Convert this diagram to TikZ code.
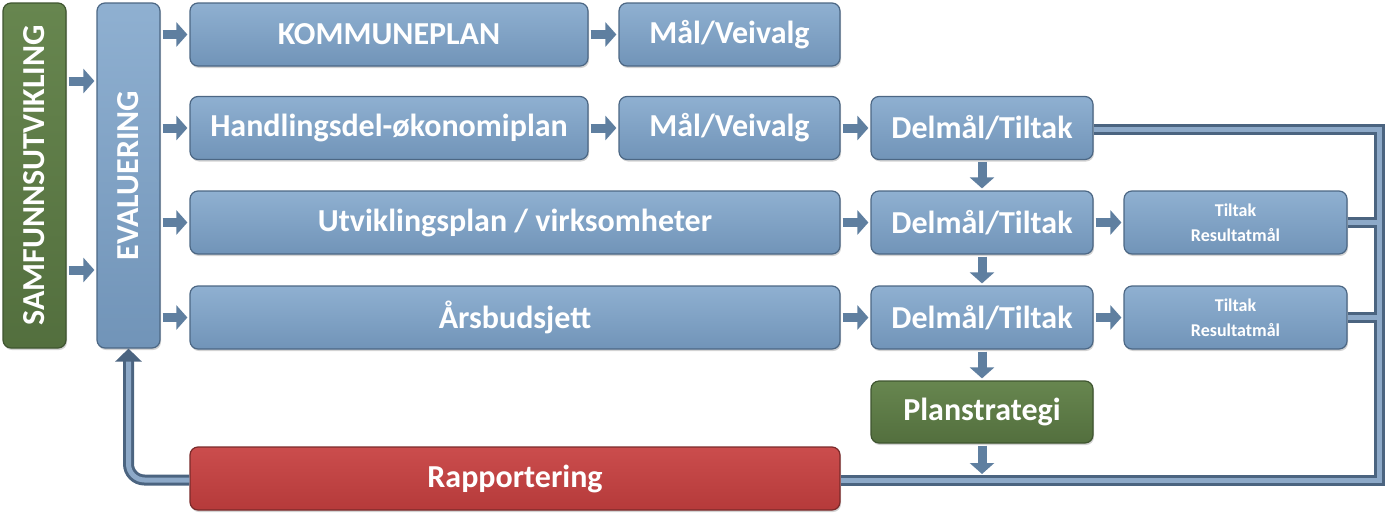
\documentclass[tikz,border=0pt]{standalone}
\usepackage{fontspec}
\usepackage{graphicx}
\setmainfont{Carlito}
\usetikzlibrary{arrows.meta,shadows,calc}
\definecolor{blueT}{HTML}{8FB0D1}
\definecolor{blueB}{HTML}{7194B8}
\definecolor{blueE}{HTML}{4C6784}
\definecolor{greenT}{HTML}{67864F}
\definecolor{greenB}{HTML}{536F3E}
\definecolor{greenE}{HTML}{3F5530}
\definecolor{redT}{HTML}{CB4D4D}
\definecolor{redB}{HTML}{B53A3A}
\definecolor{redE}{HTML}{7A2A2A}
\definecolor{arrowc}{HTML}{5F7FA0}
\definecolor{pipeD}{HTML}{4B6480}
\definecolor{pipeL}{HTML}{8DA9C8}
\begin{document}
\begin{tikzpicture}[x=1pt,y=-1pt,
  box/.style={rounded corners=8pt, line width=1.2pt, text=white,
    font=\fontsize{32}{34}\selectfont\bfseries, align=center, inner sep=0pt,
    drop shadow={shadow xshift=1pt, shadow yshift=-2pt, opacity=0.35}},
  bluebox/.style={box, draw=blueE, top color=blueT, bottom color=blueB},
  greenbox/.style={box, draw=greenE, top color=greenT, bottom color=greenB},
  redbox/.style={box, draw=redE, top color=redT, bottom color=redB},
  smallt/.style={font=\fontsize{18}{25}\selectfont\bfseries},
  barrow/.style={draw=arrowc, line width=9pt, shorten <=2pt, shorten >=2pt,
    -{Triangle[length=11pt,width=24pt]}},
  pipedark/.style={draw=pipeD, line width=11pt, line join=miter},
  pipelight/.style={draw=pipeL, line width=5pt, line join=miter},
]
\useasboundingbox (0,0) rectangle (1388,514);

% boxes
\node[greenbox, minimum width=63, minimum height=345] (samf) at (34.5,175.5) {\rotatebox{90}{SAMFUNNSUTVIKLING}};
\node[bluebox, minimum width=63, minimum height=345] (eval) at (128.5,175.5) {\rotatebox{90}{EVALUERING}};

\node[bluebox, minimum width=398, minimum height=63] (komm) at (389,34.5) {KOMMUNEPLAN};
\node[bluebox, minimum width=221, minimum height=63] (mal1) at (729.5,34.5) {Mål/Veivalg};

\node[bluebox, minimum width=398, minimum height=63] (hand) at (389,128) {Handlingsdel-økonomiplan};
\node[bluebox, minimum width=221, minimum height=63] (mal2) at (729.5,128) {Mål/Veivalg};
\node[bluebox, minimum width=222, minimum height=63] (del2) at (982,128) {Delmål/Tiltak};

\node[bluebox, minimum width=650, minimum height=63] (utv) at (515,222.5) {Utviklingsplan / virksomheter};
\node[bluebox, minimum width=222, minimum height=63] (del3) at (982,222.5) {Delmål/Tiltak};
\node[bluebox, minimum width=223, minimum height=63, smallt] (til3) at (1235.5,222.5) {Tiltak\\Resultatmål};

\node[bluebox, minimum width=650, minimum height=63] (ars) at (515,317.5) {Årsbudsjett};
\node[bluebox, minimum width=222, minimum height=63] (del4) at (982,317.5) {Delmål/Tiltak};
\node[bluebox, minimum width=223, minimum height=63, smallt] (til4) at (1235.5,317.5) {Tiltak\\Resultatmål};

\node[greenbox, minimum width=222, minimum height=62] (plan) at (982,412) {Planstrategi};
\node[redbox, minimum width=650, minimum height=63] (rapp) at (515,478.5) {Rapportering};

% pipe corners
\coordinate (c1) at (1379,129);
\coordinate (c2) at (1379,480);

% pipes (dark layer)
\draw[pipedark] (del2.east |- c1) -- (c1) -- (c2) -- (rapp.east |- c2);
\draw[pipedark] (til3.east) -- (c1 |- til3.east);
\draw[pipedark] (til4.east) -- (c1 |- til4.east);
\draw[pipedark, rounded corners=16pt, -{Triangle[length=13pt,width=26pt]}] (rapp.west |- c2) -| (eval.south);
% pipes (light layer)
\draw[pipelight] (del2.east |- c1) -- (c1) -- (c2) -- (rapp.east |- c2);
\draw[pipelight] (til3.east) -- (c1 |- til3.east);
\draw[pipelight] (til4.east) -- (c1 |- til4.east);
\draw[pipelight, rounded corners=16pt, shorten >=13pt] (rapp.west |- c2) -| (eval.south);

% block arrows
\draw[barrow] (samf.east |- 0,81) -- (eval.west |- 0,81);
\draw[barrow] (samf.east |- 0,270) -- (eval.west |- 0,270);
\draw[barrow] (eval.east |- komm.west) -- (komm.west);
\draw[barrow] (eval.east |- hand.west) -- (hand.west);
\draw[barrow] (eval.east |- utv.west) -- (utv.west);
\draw[barrow] (eval.east |- ars.west) -- (ars.west);
\draw[barrow] (komm) -- (mal1);
\draw[barrow] (hand) -- (mal2);
\draw[barrow] (mal2) -- (del2);
\draw[barrow] (utv) -- (del3);
\draw[barrow] (del3) -- (til3);
\draw[barrow] (ars) -- (del4);
\draw[barrow] (del4) -- (til4);
\draw[barrow] (del2) -- (del3);
\draw[barrow] (del3) -- (del4);
\draw[barrow] (del4) -- (plan);
\coordinate (pl) at (982,474);
\draw[barrow, shorten >=0pt] (plan) -- (pl);
\end{tikzpicture}
\end{document}
